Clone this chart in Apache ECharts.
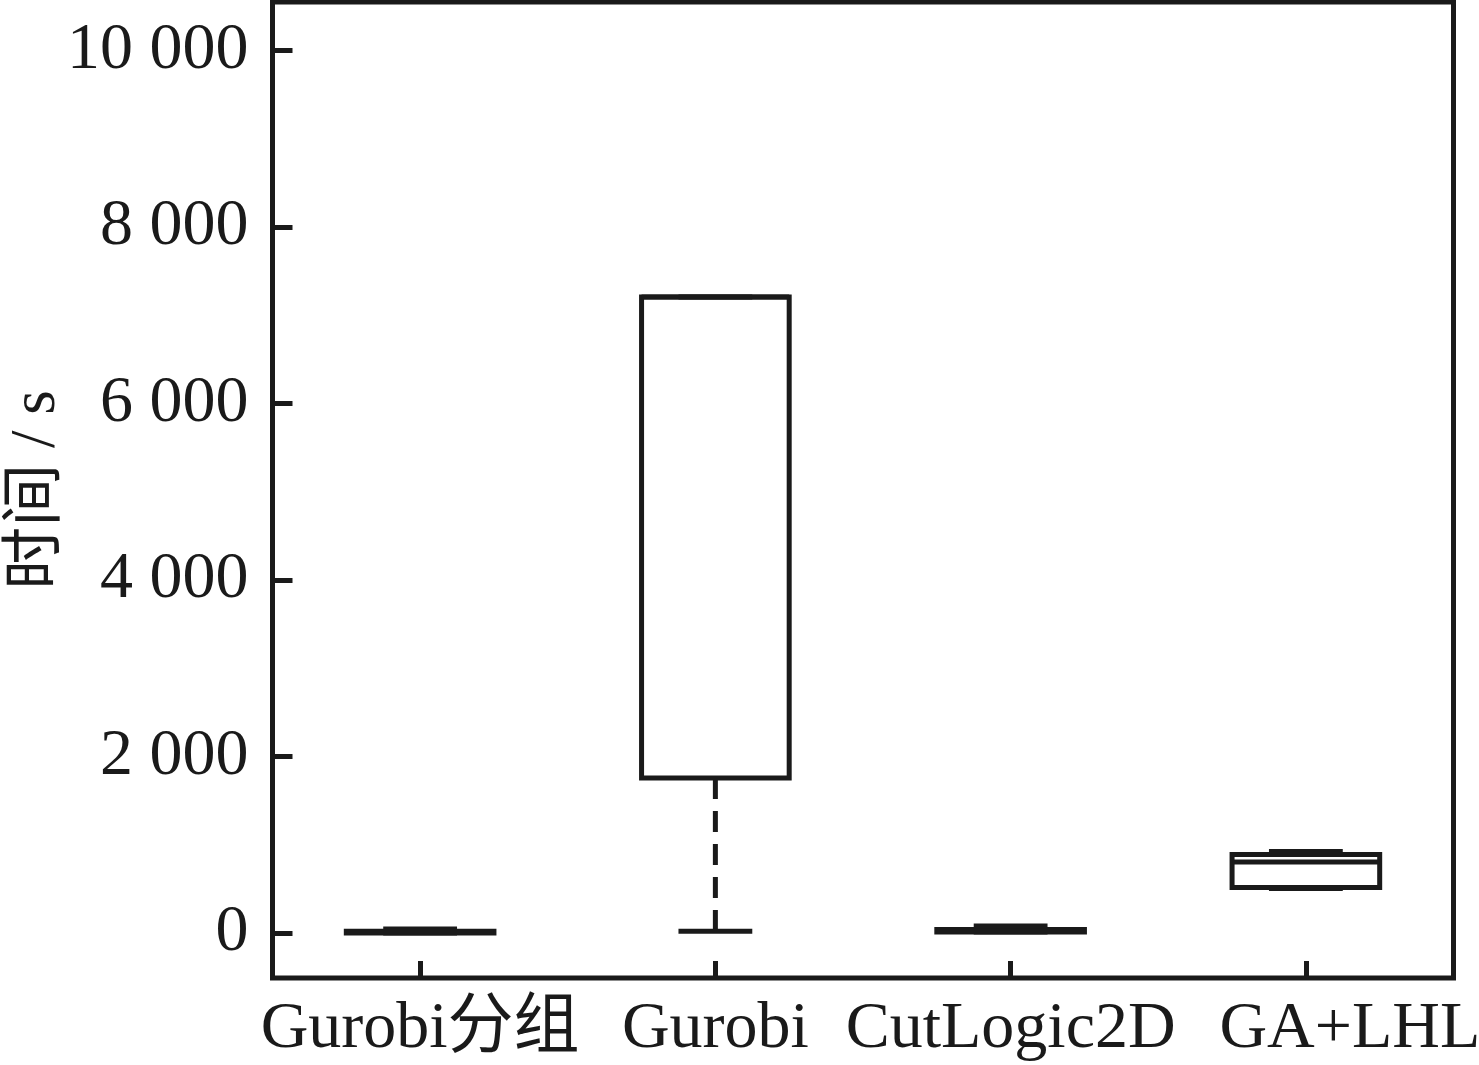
<!DOCTYPE html>
<html>
<head>
<meta charset="utf-8">
<script src="https://cdn.jsdelivr.net/npm/echarts@6/dist/echarts.min.js"></script>
<style>
html,body{margin:0;padding:0;background:#fff;}
#chart{width:1479px;height:1065px;}
</style>
</head>
<body>
<div id="chart"></div>
<script>
const categories = ['Gurobi分组', 'Gurobi', 'CutLogic2D', 'GA+LHL'];
// [min, Q1, median, Q3, max]
const gurobiGroup = [0, 0, 10, 20, 45];
const gurobi = [20, 1756, 7207, 7207, 7207];
const cutLogic = [10, 10, 25, 40, 80];
const gaLhl = [505, 516, 805, 890, 923];
const yTicks = [0, 2000, 4000, 6000, 8000, 10000];
const yName = '时间 / s';

const boxStats = [gurobiGroup, gurobi, cutLogic, gaLhl];
const ink = '#1a1a1a';
const serif = '"Liberation Serif", "Times New Roman", "Noto Sans CJK SC", serif';

function fmt(v) {
  const s = String(Math.round(v));
  return s.replace(/\B(?=(\d{3})+(?!\d))/g, ' ');
}

// the last label in the reference sits shifted right of its tick
const xData = categories.map((c, i) => i === categories.length - 1
  ? { value: c, textStyle: { padding: [0, 0, 0, 88] } }
  : c);

const chart = echarts.init(document.getElementById('chart'));
chart.setOption({
  backgroundColor: '#fff',
  animation: false,
  grid: {
    left: 272.5, right: 25.5, top: 2, bottom: 87,
    containLabel: false,
    outerBoundsMode: 'none',
    show: true, borderColor: ink, borderWidth: 5, backgroundColor: 'transparent'
  },
  xAxis: {
    type: 'category',
    data: xData,
    boundaryGap: true,
    axisLine: { show: false, onZero: false },
    axisTick: { show: true, inside: true, length: 17, alignWithLabel: true, lineStyle: { color: ink, width: 5 } },
    axisLabel: { color: ink, fontFamily: serif, fontSize: 66, margin: 19, interval: 0 },
    splitLine: { show: false }
  },
  yAxis: {
    type: 'value',
    min: -510,
    max: 10550,
    name: yName,
    nameLocation: 'middle',
    nameGap: 204,
    nameRotate: 90,
    nameMoveOverlap: false,
    nameTextStyle: { color: ink, fontFamily: serif, fontSize: 63 },
    axisLine: { show: false },
    axisTick: { show: true, inside: true, length: 20, customValues: yTicks, lineStyle: { color: ink, width: 5 } },
    axisLabel: { color: ink, fontFamily: serif, fontSize: 66, margin: 24, customValues: yTicks, formatter: fmt },
    splitLine: { show: false }
  },
  series: [{
    type: 'custom',
    data: boxStats.map((s, i) => [i].concat(s)),
    encode: { x: 0, y: [1, 2, 3, 4, 5] },
    renderItem: function (params, api) {
      const idx = api.value(0);
      const bw = api.size([1, 0])[0] * 0.5;
      const cw = api.size([1, 0])[0] * 0.25;
      const pMin = api.coord([idx, api.value(1)]);
      const pQ1 = api.coord([idx, api.value(2)]);
      const pMed = api.coord([idx, api.value(3)]);
      const pQ3 = api.coord([idx, api.value(4)]);
      const pMax = api.coord([idx, api.value(5)]);
      const x = pQ1[0];
      const solid = { stroke: ink, lineWidth: 5, fill: null };
      const dashed = { stroke: ink, lineWidth: 5, fill: null, lineDash: [21, 12] };
      const children = [];
      if (pMin[1] - pQ1[1] > 3) {
        children.push({ type: 'line', shape: { x1: x, y1: pQ1[1], x2: x, y2: pMin[1] }, style: dashed });
      }
      if (pQ3[1] - pMax[1] > 3) {
        children.push({ type: 'line', shape: { x1: x, y1: pQ3[1], x2: x, y2: pMax[1] }, style: dashed });
      }
      children.push({ type: 'line', shape: { x1: x - cw / 2, y1: pMin[1], x2: x + cw / 2, y2: pMin[1] }, style: solid });
      children.push({ type: 'line', shape: { x1: x - cw / 2, y1: pMax[1], x2: x + cw / 2, y2: pMax[1] }, style: solid });
      children.push({ type: 'rect', shape: { x: x - bw / 2, y: pQ3[1], width: bw, height: Math.max(pQ1[1] - pQ3[1], 0.5) }, style: solid });
      children.push({ type: 'line', shape: { x1: x - bw / 2, y1: pMed[1], x2: x + bw / 2, y2: pMed[1] }, style: solid });
      return { type: 'group', children: children };
    }
  }]
});
</script>
</body>
</html>
